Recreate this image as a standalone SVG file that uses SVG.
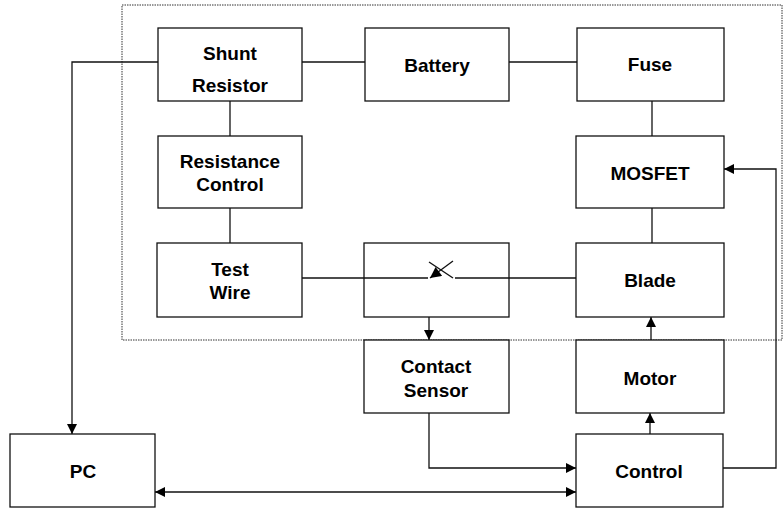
<svg xmlns="http://www.w3.org/2000/svg" width="783" height="510" viewBox="0 0 783 510">
<style>
.box{fill:#fff;stroke:#111;stroke-width:1.3}
.t{font-family:"Liberation Sans",Arial,sans-serif;font-weight:bold;font-size:19px;text-anchor:middle;fill:#000}
.ln{fill:none;stroke:#111;stroke-width:1.3}
.bd{fill:none;stroke:#333;stroke-width:1;stroke-dasharray:1.5 1}
</style>
<defs>
<marker id="ah" viewBox="0 0 10 10" refX="10" refY="5" markerWidth="11" markerHeight="10" markerUnits="userSpaceOnUse" orient="auto-start-reverse">
<path d="M0,0 L10,5 L0,10 z" fill="#000"/>
</marker>
<marker id="sw" viewBox="0 0 10 10" refX="10" refY="5" markerWidth="12" markerHeight="11" markerUnits="userSpaceOnUse" orient="auto">
<path d="M0,0 L10,5 L0,10 z" fill="#000"/>
</marker>
</defs>
<rect class="bd" x="122" y="5" width="660" height="335"/>
<g id="connectors">
<path class="ln" d="M302,62 H365"/>
<path class="ln" d="M509,62 H577"/>
<path class="ln" d="M230,101 V136"/>
<path class="ln" d="M230,208 V243"/>
<path class="ln" d="M652,101 V136"/>
<path class="ln" d="M652,208 V243"/>
<path class="ln" d="M158,62 H72 V434" marker-end="url(#ah)"/>
<path class="ln" d="M302,278 H428"/>
<path class="ln" d="M455,278 H576"/>
<path class="ln" d="M429,262 L453,278"/>
<path class="ln" d="M453,261 L430,278" marker-end="url(#sw)"/>
<path class="ln" d="M429,317 V340" marker-end="url(#ah)"/>
<path class="ln" d="M651,340 V317" marker-end="url(#ah)"/>
<path class="ln" d="M650,434 V413" marker-end="url(#ah)"/>
<path class="ln" d="M429,413 V468 H576" marker-end="url(#ah)"/>
<path class="ln" d="M155,492 H576" marker-start="url(#ah)" marker-end="url(#ah)"/>
<path class="ln" d="M723,468 H776 V169 H724" marker-end="url(#ah)"/>
</g>
<g id="shunt"><rect class="box" x="158" y="28" width="144" height="73"/><text class="t" x="230" y="60">Shunt</text><text class="t" x="230" y="92">Resistor</text></g>
<g id="battery"><rect class="box" x="365" y="28" width="144" height="73"/><text class="t" x="437" y="72">Battery</text></g>
<g id="fuse"><rect class="box" x="577" y="28" width="147" height="73"/><text class="t" x="650" y="71">Fuse</text></g>
<g id="resistance"><rect class="box" x="158" y="136" width="144" height="72"/><text class="t" x="230" y="168">Resistance</text><text class="t" x="230" y="191">Control</text></g>
<g id="mosfet"><rect class="box" x="576" y="136" width="148" height="72"/><text class="t" x="650" y="180">MOSFET</text></g>
<g id="testwire"><rect class="box" x="157" y="243" width="145" height="74"/><text class="t" x="230" y="276">Test</text><text class="t" x="230" y="299">Wire</text></g>
<g id="switch"><rect class="box" x="364" y="243" width="145" height="74" style="fill:none"/></g>
<g id="blade"><rect class="box" x="576" y="243" width="148" height="74"/><text class="t" x="650" y="287">Blade</text></g>
<g id="sensor"><rect class="box" x="364" y="340" width="145" height="73"/><text class="t" x="436" y="373">Contact</text><text class="t" x="436" y="397">Sensor</text></g>
<g id="motor"><rect class="box" x="576" y="340" width="148" height="73"/><text class="t" x="650" y="385">Motor</text></g>
<g id="pc"><rect class="box" x="10" y="434" width="145" height="73"/><text class="t" x="83" y="478">PC</text></g>
<g id="control"><rect class="box" x="576" y="434" width="147" height="73"/><text class="t" x="649" y="478">Control</text></g>
</svg>
